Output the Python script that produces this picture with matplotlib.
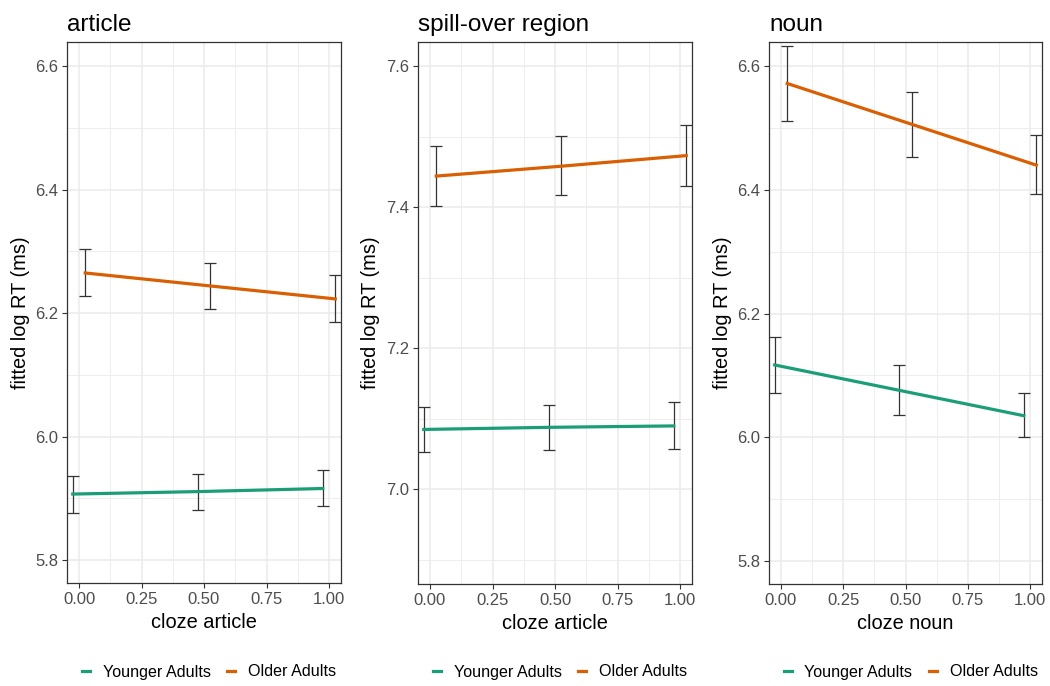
import numpy as np
import matplotlib
matplotlib.use("Agg")
import matplotlib.pyplot as plt
from matplotlib.lines import Line2D

plt.rcParams['font.family'] = ['Liberation Sans', 'DejaVu Sans']

# cloze levels and group dodge
x_levels = np.array([0.0, 0.5, 1.0])
dodge = 0.025
groups = ["Younger Adults", "Older Adults"]
group_colors = ["#1B9E77", "#D95F02"]

# article
article_young = [5.907, 5.911, 5.916]
article_young_lo = [5.877, 5.882, 5.887]
article_young_hi = [5.937, 5.940, 5.946]
article_old = [6.265, 6.244, 6.223]
article_old_lo = [6.228, 6.206, 6.185]
article_old_hi = [6.304, 6.281, 6.262]

# spill-over region
spill_young = [7.085, 7.088, 7.090]
spill_young_lo = [7.053, 7.056, 7.058]
spill_young_hi = [7.117, 7.120, 7.124]
spill_old = [7.444, 7.458, 7.473]
spill_old_lo = [7.402, 7.417, 7.430]
spill_old_hi = [7.486, 7.501, 7.516]

# noun
noun_young = [6.117, 6.076, 6.035]
noun_young_lo = [6.071, 6.036, 6.000]
noun_young_hi = [6.163, 6.117, 6.072]
noun_old = [6.572, 6.506, 6.440]
noun_old_lo = [6.511, 6.453, 6.394]
noun_old_hi = [6.632, 6.558, 6.488]

panels = [
    ("article", "cloze article",
     [(article_young, article_young_lo, article_young_hi), (article_old, article_old_lo, article_old_hi)],
     (5.763, 6.639), [5.8, 6.0, 6.2, 6.4, 6.6]),
    ("spill-over region", "cloze article",
     [(spill_young, spill_young_lo, spill_young_hi), (spill_old, spill_old_lo, spill_old_hi)],
     (6.866, 7.634), [7.0, 7.2, 7.4, 7.6]),
    ("noun", "cloze noun",
     [(noun_young, noun_young_lo, noun_young_hi), (noun_old, noun_old_lo, noun_old_hi)],
     (5.763, 6.639), [5.8, 6.0, 6.2, 6.4, 6.6]),
]

W, H = 1050, 686
fig = plt.figure(figsize=(W / 100, H / 100), dpi=100)

# axes boxes in pixels: left, right, top, bottom
boxes = [(67, 341, 42, 583), (418, 692, 42, 584), (769, 1042, 42, 584)]
ylabel_x = [20, 371, 722]

for (title, xlab, series, ylim, yticks), (l, r, t, b), ylx in zip(panels, boxes, ylabel_x):
    ax = fig.add_axes([l / W, 1 - b / H, (r - l) / W, (b - t) / H])
    ax.set_xticks([0, 0.25, 0.5, 0.75, 1.0])
    ax.set_xticklabels(["0.00", "0.25", "0.50", "0.75", "1.00"])
    ax.set_xticks([0.125, 0.375, 0.625, 0.875], minor=True)
    ax.set_yticks(yticks)
    ax.set_yticklabels(["%.1f" % v for v in yticks])
    ax.set_yticks([v + 0.1 for v in [yticks[0] - 0.2] + yticks], minor=True)
    ax.set_xlim(-0.048, 1.048)
    ax.set_ylim(*ylim)
    ax.grid(True, which='major', color='#EBEBEB', linewidth=1.1)
    ax.grid(True, which='minor', color='#EBEBEB', linewidth=0.6)
    ax.set_axisbelow(True)
    ax.tick_params(which='major', length=3.5, width=0.8, color='#333333',
                   labelcolor='#4D4D4D', labelsize=12, pad=3)
    ax.tick_params(which='minor', length=0)
    for sp in ax.spines.values():
        sp.set_color('#333333')
        sp.set_linewidth(0.9)

    for k, ((mean, lo, hi), col) in enumerate(zip(series, group_colors)):
        xs = x_levels + (dodge if k == 1 else -dodge)
        mean = np.array(mean)
        yerr = [mean - np.array(lo), np.array(hi) - mean]
        ax.errorbar(xs, mean, yerr=yerr, fmt='none', ecolor='#333333',
                    elinewidth=0.9, capsize=4.5, capthick=0.9, zorder=2)
        ax.plot(xs, mean, color=col, linewidth=2.3, zorder=3)

    ax.set_xlabel(xlab, fontsize=14.4, color='black', labelpad=4)
    ax.set_title(title, loc='left', fontsize=17.5, pad=8)
    fig.text(ylx / W, 1 - (t + b) / 2 / H, "fitted log RT (ms)", rotation=90,
             fontsize=14.4, ha='center', va='center')

    handles = [Line2D([0], [0], color=c, linewidth=2.3) for c in group_colors]
    cx = (l - 35 + r) / 2 / W + 0.012 + 10 / W
    fig.legend(handles, groups, loc='center', bbox_to_anchor=(cx, 1 - 672 / H),
               ncol=2, frameon=False, fontsize=11.6, handlelength=0.5,
               handletextpad=0.8, columnspacing=1.0)

fig.savefig("out.png", dpi=100)
